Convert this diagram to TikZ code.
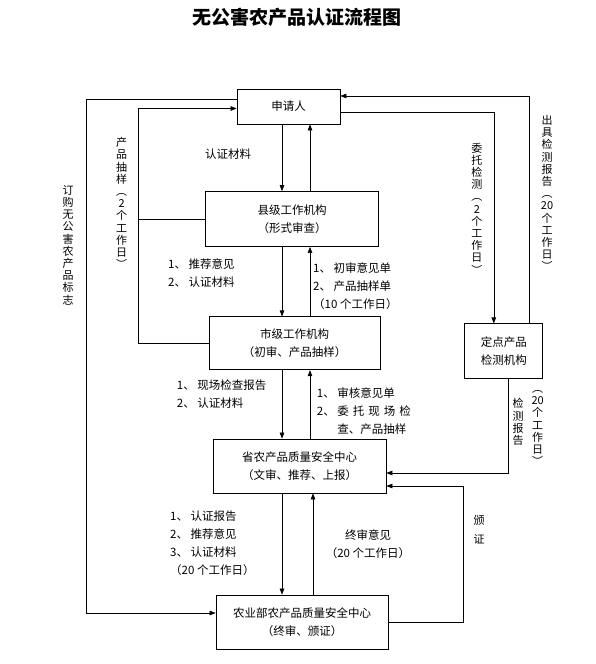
\documentclass[tikz,border=0pt]{standalone}
\usepackage{fontspec}
\setmainfont{Noto Sans CJK SC}
\usetikzlibrary{calc, arrows.meta}

\begin{document}
\begin{tikzpicture}[x=1pt, y=-1pt,
  box/.style={draw, line width=0.7pt, inner sep=0pt, align=center,
    font=\fontsize{11.5}{18}\selectfont},
  arr/.style={-{Triangle[length=6pt, width=4.5pt]}, line width=0.6pt},
  ln/.style={line width=0.6pt},
  lbl/.style={align=left, inner sep=0pt, font=\fontsize{11.5}{18}\selectfont},
  vlbl/.style={align=center, inner sep=0pt, font=\fontsize{11}{12.2}\selectfont}]
  \useasboundingbox (0,0) rectangle (596,664);
  % Titre
  \node[font=\fontsize{19}{19}\selectfont\bfseries] (title) at (297,17) {无公害农产品认证流程图};
  % Boites
  \node[box, minimum width=103pt, minimum height=35pt] (sq) at (288.5,106.5) {申请人};
  \node[box, minimum width=173pt, minimum height=55pt] (xian) at (292,219) {县级工作机构\\（形式审查）};
  \node[box, minimum width=171pt, minimum height=53pt] (shi) at (294.5,343.3) {市级工作机构\\（初审、产品抽样）};
  \node[box, minimum width=173pt, minimum height=54pt] (sheng) at (299.5,466) {省农产品质量安全中心\\（文审、推荐、上报）};
  \node[box, minimum width=172pt, minimum height=54pt] (nyb) at (302,622) {农业部农产品质量安全中心\\（终审、颁证）};
  \node[box, minimum width=78pt, minimum height=55pt] (jc) at (503.8,351.3) {定点产品\\检测机构};
  % Colonnes des fleches verticales
  \coordinate (dn) at (282,0);
  \coordinate (up) at (310,0);
  \coordinate (up2) at (313,0);
  % Chaine centrale
  \draw[arr] (sq.south -| dn) -- (xian.north -| dn);
  \draw[arr] (xian.north -| up) -- (sq.south -| up);
  \draw[arr] (xian.south -| dn) -- (shi.north -| dn);
  \draw[arr] (shi.north -| up) -- (xian.south -| up);
  \draw[arr] (shi.south -| dn) -- (sheng.north -| dn);
  \draw[arr] (sheng.north -| up) -- (shi.south -| up);
  \draw[arr] (sheng.south -| dn) -- (nyb.north -| dn);
  \draw[arr] (nyb.north -| up2) -- (sheng.south -| up2);
  % Cote gauche
  \draw[arr] ([yshift=7.5pt]sq.west) -- ++(-150,0) |- ([yshift=9pt]nyb.west);
  \draw[arr] (shi.west) -- ++(-70,0) |- ([yshift=-2pt]sq.west);
  \draw[ln] (xian.west) -- ++(-66.7,0);
  % Cote droit
  \draw[arr] ([yshift=-6pt]sq.east) -| ([xshift=-10pt]jc.north);
  \draw[arr] ([xshift=25pt]jc.north) |- ([yshift=10.5pt]sq.east);
  \draw[arr] ([xshift=4pt]jc.south) |- ([yshift=-7pt]sheng.east);
  \draw[arr] (nyb.east) -- ++(75,0) |- ([yshift=-20pt]sheng.east);
  % Etiquettes horizontales
  \node[lbl] (l-cl) at (228,154) {认证材料};
  \node[lbl, anchor=west] (l-xs) at (168,273) {1、 推荐意见\\2、 认证材料};
  \node[lbl, anchor=west] (l-sx) at (313,286) {1、 初审意见单\\2、 产品抽样单\\（10 个工作日）};
  \node[lbl, anchor=west] (l-ss) at (176.7,394) {1、 现场检查报告\\2、 认证材料};
  \node[lbl, anchor=west] (l-sh) at (316.7,410.7) {1、 审核意见单\\2、 委\hspace{4pt}托\hspace{4pt}现\hspace{4pt}场\hspace{4pt}检\\\phantom{2、 }查、产品抽样};
  \node[lbl, anchor=west] (l-sn) at (170,543) {1、 认证报告\\2、 推荐意见\\3、 认证材料\\（20 个工作日）};
  \node[lbl, align=center] (l-ns) at (368,544) {终审意见\\（20 个工作日）};
  % Etiquettes verticales
  \node[vlbl] (v-bz) at (68,245) {订\\购\\无\\公\\害\\农\\产\\品\\标\\志};
  \node[vlbl] (v-cy) at (121.7,203) {产\\品\\抽\\样\\︵\\2\\个\\工\\作\\日\\︶};
  \node[vlbl] (v-wt) at (476.8,208.5) {委\\托\\检\\测\\︵\\2\\个\\工\\作\\日\\︶};
  \node[vlbl] (v-cj) at (547,193) {出\\具\\检\\测\\报\\告\\︵\\20\\个\\工\\作\\日\\︶};
  \node[vlbl] (v-bg) at (518,422) {检\\测\\报\\告};
  \node[vlbl] (v-gr) at (537.6,428) {︵\\20\\个\\工\\作\\日\\︶};
  \node[vlbl, font=\fontsize{11}{19}\selectfont] (v-bzh) at (479,530) {颁\\证};
\end{tikzpicture}
\end{document}
